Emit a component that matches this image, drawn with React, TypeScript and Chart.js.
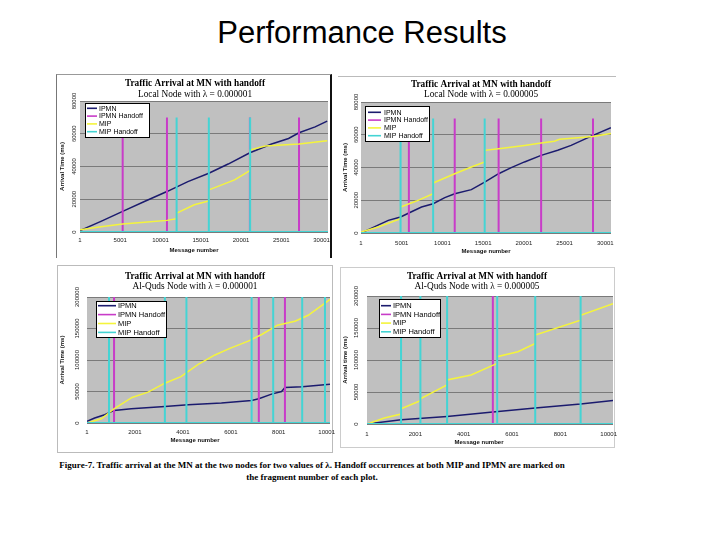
import React, { useEffect, useRef } from "react";
import { Chart, registerables } from "chart.js";

Chart.register(...registerables);

// ---------- text ----------
const PAGE_TITLE = "Performance Results";
const CHART_TITLE = "Traffic Arrival at MN with handoff";
const SUBTITLES = [
  "Local Node with λ = 0.000001",
  "Local Node with λ = 0.000005",
  "Al-Quds Node with λ = 0.000001",
  "Al-Quds Node with λ = 0.000005",
];
const Y_TITLES = ["Arrival Time (ms)", "Arrival Time (ms)", "Arrival Time (ms)", "Arrival time (ms)"];
const X_TITLE = "Message number";
const SERIES_LABELS = ["IPMN", "IPMN Handoff", "MIP", "MIP Handoff"];
const CAPTION_1 =
  "Figure-7. Traffic arrival at the MN at the two nodes for two values of λ. Handoff occurrences at both MIP and IPMN are marked on";
const CAPTION_2 = "the fragment number of each plot.";

// ---------- ticks ----------
const X_TICKS_LOCAL = [1, 5001, 10001, 15001, 20001, 25001, 30001];
const X_TICKS_ALQUDS = [1, 2001, 4001, 6001, 8001, 10001];

// ---------- data: Local node, lambda = 0.000001 ----------
const TL_IPMN = [
  [1, 800], [2600, 6500], [5300, 12600], [8000, 18600], [10800, 24700], [13400, 30800],
  [16000, 35900], [18400, 41500], [21100, 48400], [23800, 53700], [25900, 57100],
  [27200, 60600], [29200, 64200], [30700, 67700],
];
const TL_MIP = [
  [1, 1400], [2600, 3200], [5300, 4900], [8000, 6000], [10800, 7100], [12000, 8100],
  [12000, 11500], [14200, 16600], [16000, 19000], [16000, 25700], [19200, 31800],
  [21100, 37500], [21100, 50000], [23000, 52500], [27200, 53700], [30700, 55700],
];
const TL_IPMN_HANDOFF = [5300, 10800, 21100, 27200];
const TL_MIP_HANDOFF = [12000, 16000, 21130];

// ---------- data: Local node, lambda = 0.000005 ----------
const TR_IPMN = [
  [1, 0], [3350, 7700], [4860, 9800], [5880, 12200], [7430, 15900], [8860, 17900],
  [10290, 21600], [11510, 24000], [13550, 26500], [15190, 31100], [16900, 36200],
  [18450, 39900], [20080, 43400], [22120, 47400], [24160, 50500], [25800, 53500],
  [28490, 59600], [30690, 64300],
];
const TR_MIP = [
  [1, 600], [2120, 3700], [4860, 8750], [4860, 15900], [6800, 19500], [8860, 24000],
  [8860, 30500], [11510, 36200], [13550, 40300], [15190, 43400], [15190, 50500],
  [16900, 51500], [20080, 53500], [22120, 55000], [23760, 56000], [24370, 57200],
  [28490, 59000], [30690, 60700],
];
const TR_IPMN_HANDOFF = [5880, 11510, 16900, 22120, 28490];
const TR_MIP_HANDOFF = [4860, 8860, 15190];

// ---------- data: Al-Quds node, lambda = 0.000001 ----------
const BL_IPMN = [
  [1, 2600], [320, 7900], [740, 13200], [1130, 20000], [1850, 22600], [3250, 26300],
  [4220, 29000], [5610, 31600], [6870, 35800], [7170, 38400], [7700, 45800],
  [8120, 50000], [8260, 56300], [8980, 57400], [10140, 61600],
];
const BL_MIP = [
  [1, 0], [600, 6800], [1130, 22600], [1880, 40500], [2550, 49000], [3250, 63200],
  [3920, 73700], [4640, 93200], [5340, 108000], [5960, 118400], [6730, 130000],
  [7290, 140500], [7950, 155300], [8400, 159000], [8680, 161600], [9230, 171000],
  [10000, 192100], [10140, 196300],
];
const BL_IPMN_HANDOFF = [1130, 7170, 8260];
const BL_MIP_HANDOFF = [920, 3250, 4150, 6870, 7770, 8980, 9930];

// ---------- data: Al-Quds node, lambda = 0.000005 ----------
const BR_IPMN = [
  [1, 0], [1410, 6700], [3316, 11900], [5208, 18650], [6962, 24900], [8840, 31100],
  [10180, 36800],
];
const BR_MIP = [
  [1, 0], [720, 9300], [1410, 15500], [1410, 23800], [2211, 36300], [2211, 39400],
  [3316, 61100], [3316, 68900], [4310, 76700], [5388, 94800], [5388, 105200],
  [6245, 113000], [6962, 125900], [6962, 138900], [8840, 162200], [8840, 170000],
  [10180, 188100],
];
const BR_IPMN_HANDOFF = [5208];
const BR_MIP_HANDOFF = [1410, 2211, 3316, 5388, 6962, 8840];

// ---------- styles ----------
const COLORS = ["#1b1b6e", "#c83cc8", "#f4f43c", "#44d4d4"];
const PLOT_BG = "#c0c0c0";
const GRID = "#7a7a7a";
const EXTRA_W = 10;

type Pt = number[];

function toPts(a: Pt[]) {
  return a.map((p) => ({ x: p[0], y: p[1] }));
}
function spikes(xs: number[], h: number, xmin: number, xmax: number) {
  const pts: { x: number; y: number }[] = [{ x: xmin, y: 0 }];
  xs.forEach((x) => {
    pts.push({ x, y: 0 }, { x, y: h }, { x, y: 0 });
  });
  pts.push({ x: xmax, y: 0 });
  return pts;
}

const PANELS = [
  {
    key: "tl",
    box: { left: 56, top: 74, width: 276, height: 184, borderLeft: "1px solid #777", borderTop: "1px solid #999", borderRight: "2px solid #111" },
    canvas: { left: 57, top: 75, width: 274, height: 182 },
    plot: { left: 23, top: 26, right: 3, bottom: 25 },
    titleX: 138, t1Y: 9, t2Y: 20, yTickX: 17, yTitleX: 5, xTickDy: 8, xTitleDy: 18, xTitleX: 137,
    legend: { dx: 5, dy: 2, w: 65, h: 35, row0: 5.3, step: 7.8, sx0: 2, sx1: 12, tx: 14, font: 7 },
    xMax: 30800, yMax: 80000, yStep: 20000, hHeight: 70000,
    ipmn: TL_IPMN, mip: TL_MIP, ipmnH: TL_IPMN_HANDOFF, mipH: TL_MIP_HANDOFF, xTicks: X_TICKS_LOCAL, idx: 0,
  },
  {
    key: "tr",
    box: { left: 338, top: 76, width: 278, height: 180, borderTop: "1px solid #bbb" },
    canvas: { left: 338, top: 77, width: 278, height: 178 },
    plot: { left: 23, top: 25, right: 5, bottom: 22 },
    titleX: 143, t1Y: 8, t2Y: 18, yTickX: 18, yTitleX: 7, xTickDy: 10, xTitleDy: 18, xTitleX: 148,
    legend: { dx: 4, dy: 4, w: 65, h: 36, row0: 6.3, step: 7.8, sx0: 3, sx1: 16, tx: 19, font: 7 },
    xMax: 30700, yMax: 80000, yStep: 20000, hHeight: 70000,
    ipmn: TR_IPMN, mip: TR_MIP, ipmnH: TR_IPMN_HANDOFF, mipH: TR_MIP_HANDOFF, xTicks: X_TICKS_LOCAL, idx: 1,
  },
  {
    key: "bl",
    box: { left: 57, top: 265, width: 276, height: 188, border: "1px solid #bbb" },
    canvas: { left: 58, top: 266, width: 274, height: 185 },
    plot: { left: 29, top: 31, right: 2, bottom: 28 },
    titleX: 137, t1Y: 11, t2Y: 21, yTickX: 19, yTitleX: 4, xTickDy: 9, xTitleDy: 17, xTitleX: 137,
    legend: { dx: 9, dy: 4, w: 71, h: 37, row0: 4.7, step: 8.9, sx0: 2, sx1: 20, tx: 22, font: 7.5 },
    xMax: 10140, yMax: 200000, yStep: 50000, hHeight: 200000,
    ipmn: BL_IPMN, mip: BL_MIP, ipmnH: BL_IPMN_HANDOFF, mipH: BL_MIP_HANDOFF, xTicks: X_TICKS_ALQUDS, idx: 2,
  },
  {
    key: "br",
    box: { left: 340, top: 267, width: 275, height: 181, border: "1px solid #ccc" },
    canvas: { left: 341, top: 268, width: 273, height: 178 },
    plot: { left: 26, top: 28, right: 1, bottom: 22 },
    titleX: 136, t1Y: 9, t2Y: 19, yTickX: 15, yTitleX: 4, xTickDy: 10, xTitleDy: 18, xTitleX: 138,
    legend: { dx: 12, dy: 3, w: 62, h: 39, row0: 6.7, step: 8.7, sx0: 2, sx1: 12, tx: 14, font: 7.5 },
    xMax: 10180, yMax: 200000, yStep: 50000, hHeight: 200000,
    ipmn: BR_IPMN, mip: BR_MIP, ipmnH: BR_IPMN_HANDOFF, mipH: BR_MIP_HANDOFF, xTicks: X_TICKS_ALQUDS, idx: 3,
  },
];

type PanelCfg = (typeof PANELS)[number];

function rotText(ctx: CanvasRenderingContext2D, s: string, x: number, y: number) {
  ctx.save();
  ctx.translate(x, y);
  ctx.rotate(-Math.PI / 2);
  ctx.textAlign = "center";
  ctx.textBaseline = "middle";
  ctx.fillText(s, 0, 0);
  ctx.restore();
}

function makePlugin(p: PanelCfg) {
  return {
    id: "deco_" + p.key,
    beforeDraw(chart: any) {
      const { ctx, chartArea: a } = chart;
      ctx.save();
      ctx.fillStyle = PLOT_BG;
      ctx.fillRect(a.left, a.top, a.right - a.left, a.bottom - a.top);
      ctx.restore();
    },
    afterDraw(chart: any) {
      const { ctx, chartArea: a } = chart;
      const xs = chart.scales.x;
      const ys = chart.scales.y;
      ctx.save();
      // titles
      ctx.fillStyle = "#000";
      ctx.textAlign = "center";
      ctx.textBaseline = "middle";
      ctx.font = 'bold 9.3px "Liberation Serif"';
      ctx.fillText(CHART_TITLE, p.titleX, p.t1Y);
      ctx.font = '9.3px "Liberation Serif"';
      ctx.fillText(SUBTITLES[p.idx], p.titleX, p.t2Y);
      // y ticks
      ctx.fillStyle = "#222";
      ctx.font = '6px "Liberation Sans"';
      ys.ticks.forEach((t: any) => {
        rotText(ctx, String(t.value), p.yTickX, ys.getPixelForValue(t.value));
      });
      // y title
      ctx.fillStyle = "#111";
      ctx.font = 'bold 6px "Liberation Sans"';
      rotText(ctx, Y_TITLES[p.idx], p.yTitleX, (a.top + a.bottom) / 2);
      // x ticks
      ctx.fillStyle = "#222";
      ctx.font = '6px "Liberation Sans"';
      ctx.textAlign = "center";
      ctx.textBaseline = "middle";
      p.xTicks.forEach((v) => {
        ctx.fillText(String(v), xs.getPixelForValue(v), a.bottom + p.xTickDy);
      });
      // x title
      ctx.fillStyle = "#111";
      ctx.font = 'bold 6px "Liberation Sans"';
      ctx.fillText(X_TITLE, p.xTitleX, a.bottom + p.xTitleDy);
      // legend
      const L = p.legend;
      const x0 = Math.round(a.left + L.dx);
      const y0 = Math.round(a.top + L.dy);
      ctx.fillStyle = "#fff";
      ctx.fillRect(x0, y0, L.w, L.h);
      ctx.strokeStyle = "#000";
      ctx.lineWidth = 1;
      ctx.strokeRect(x0 + 0.5, y0 + 0.5, L.w - 1, L.h - 1);
      ctx.font = `${L.font}px "Liberation Sans"`;
      ctx.textAlign = "left";
      ctx.textBaseline = "middle";
      SERIES_LABELS.forEach((lab, i) => {
        const y = y0 + L.row0 + i * L.step;
        ctx.strokeStyle = COLORS[i];
        ctx.lineWidth = 1.6;
        ctx.beginPath();
        ctx.moveTo(x0 + L.sx0, y);
        ctx.lineTo(x0 + L.sx1, y);
        ctx.stroke();
        ctx.fillStyle = "#000";
        ctx.fillText(lab, x0 + L.tx, y + 0.3);
      });
      ctx.restore();
    },
  };
}

function Panel({ p }: { p: PanelCfg }) {
  const ref = useRef<HTMLCanvasElement | null>(null);
  const cw = p.canvas.width + EXTRA_W;
  useEffect(() => {
    if (!ref.current) return;
    const xmin = 1;
    const datasets: any[] = [
      { label: SERIES_LABELS[0], data: toPts(p.ipmn), borderColor: COLORS[0], borderWidth: 1.5, order: 3 },
      { label: SERIES_LABELS[1], data: spikes(p.ipmnH, p.hHeight, xmin, p.xMax), borderColor: COLORS[1], borderWidth: 2, order: 2 },
      { label: SERIES_LABELS[2], data: toPts(p.mip), borderColor: COLORS[2], borderWidth: 1.5, order: 1 },
      { label: SERIES_LABELS[3], data: spikes(p.mipH, p.hHeight, xmin, p.xMax), borderColor: COLORS[3], borderWidth: 2, order: 0 },
    ];
    const chart = new Chart(ref.current, {
      type: "line",
      data: { datasets },
      options: {
        responsive: false,
        animation: false,
        devicePixelRatio: 1,
        events: [],
        layout: { padding: { left: 0, top: p.plot.top, right: p.plot.right + EXTRA_W, bottom: p.plot.bottom } },
        elements: { point: { radius: 0 }, line: { tension: 0 } },
        plugins: { legend: { display: false }, title: { display: false }, tooltip: { enabled: false } },
        scales: {
          x: { type: "linear", display: false, min: xmin, max: p.xMax },
          y: {
            type: "linear",
            min: 0,
            max: p.yMax,
            ticks: { display: false, stepSize: p.yStep },
            grid: { color: GRID, lineWidth: 1, drawTicks: false },
            border: { display: false },
            title: { display: false },
            afterFit: (s: any) => {
              s.width = p.plot.left;
              s.paddingTop = 0;
              s.paddingBottom = 0;
            },
          },
        },
      },
      plugins: [makePlugin(p)],
    } as any);
    return () => chart.destroy();
  }, [p]);
  return (
    <>
      <div style={{ position: "absolute", boxSizing: "border-box", ...p.box }} />
      <canvas
        ref={ref}
        width={cw}
        height={p.canvas.height}
        style={{ position: "absolute", left: p.canvas.left, top: p.canvas.top, width: cw, height: p.canvas.height }}
      />
    </>
  );
}

export default function App() {
  return (
    <div style={{ position: "absolute", left: 0, top: 0, width: 720, height: 540, background: "#fff", overflow: "hidden" }}>
      <div
        style={{
          position: "absolute",
          left: 0,
          top: 17,
          width: 724,
          textAlign: "center",
          fontFamily: '"Liberation Sans", Arial, sans-serif',
          fontSize: 31,
          lineHeight: "31px",
          color: "#000",
        }}
      >
        {PAGE_TITLE}
      </div>
      {PANELS.map((p) => (
        <Panel key={p.key} p={p} />
      ))}
      <div
        style={{
          position: "absolute",
          left: 0,
          top: 459,
          width: 624,
          textAlign: "center",
          fontFamily: '"Liberation Serif", "Times New Roman", serif',
          fontWeight: "bold",
          fontSize: 9,
          lineHeight: "12px",
          color: "#000",
          whiteSpace: "nowrap",
        }}
      >
        {CAPTION_1}
        <br />
        {CAPTION_2}
      </div>
    </div>
  );
}
